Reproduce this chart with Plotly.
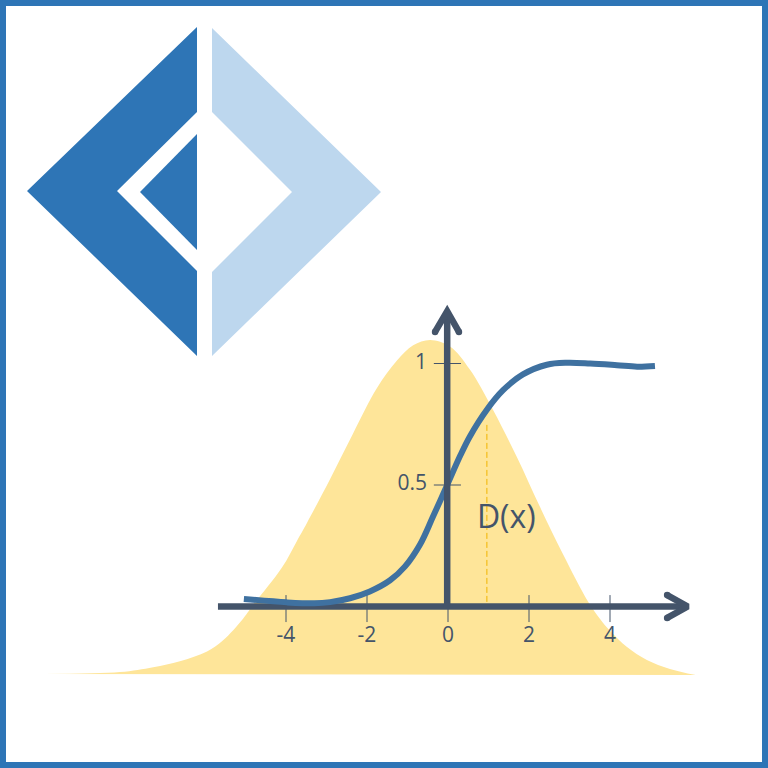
import plotly.graph_objects as go

# Function values
density_x = [-9.95,-8.10,-7.28,-6.62,-5.95,-5.56,-5.06,-4.84,-4.10,-3.73,-3.48,-2.91,-2.35,-1.75,-1.26,-0.86,-0.44,0.05,0.54,1.11,1.70,2.27,2.84,3.46,3.75,4.00,4.42,4.91,5.48,6.12]
density_y = [-0.278,-0.270,-0.250,-0.225,-0.185,-0.140,-0.050,0.0,0.160,0.270,0.345,0.525,0.710,0.900,1.012,1.075,1.097,1.070,0.975,0.810,0.615,0.410,0.215,0.020,-0.050,-0.100,-0.167,-0.220,-0.257,-0.282]
cdf_x = [-5.04,-3.98,-3.30,-2.91,-2.42,-1.93,-1.43,-1.06,-0.69,-0.37,-0.02,0.30,0.54,0.96,1.36,1.85,2.44,2.94,3.51,4.17,4.67,5.11]
cdf_y = [0.031,0.017,0.013,0.018,0.034,0.062,0.108,0.165,0.255,0.370,0.500,0.620,0.700,0.810,0.890,0.955,0.995,1.003,1.000,0.993,0.987,0.990]
x_ticks = [-4, -2, 0, 2, 4]
y_ticks = [0.5, 1]
y_tick_labels = ["0.5", "1"]
marker_x = 0.96
marker_y = [0.019, 0.755]
marker_label = "D(x)"

# Logo outline, in picture units
logo_left_x = [197, 27, 197, 197, 117, 197]
logo_left_y = [27, 191, 356, 271, 191, 112]
logo_inner_x = [197, 140, 197]
logo_inner_y = [134, 192, 250]
logo_right_x = [212, 381, 212, 212, 292, 212]
logo_right_y = [28, 192, 356, 272, 192, 112]

DARK = "#44546A"
BLUE = "#2E75B6"
LIGHT = "#BDD7EE"
CURVE = "#3F71A0"
GOLD = "#FEE599"

fig = go.Figure()

def logo(xs, ys, colour):
    fig.add_trace(go.Scatter(x=xs, y=ys, xaxis="x2", yaxis="y2", mode="lines", fill="toself",
                             fillcolor=colour, line=dict(width=0), hoverinfo="skip"))

logo(logo_left_x, logo_left_y, BLUE)
logo(logo_inner_x, logo_inner_y, BLUE)
logo(logo_right_x, logo_right_y, LIGHT)

fig.add_trace(go.Scatter(x=density_x, y=density_y, mode="lines", fill="toself", fillcolor=GOLD,
                         line=dict(width=0, shape="spline", smoothing=1.0), hoverinfo="skip"))
fig.add_trace(go.Scatter(x=[marker_x, marker_x], y=marker_y, mode="lines",
                         line=dict(color="#F0B400", width=1, dash="6px,3px"), hoverinfo="skip"))

tx, ty = [], []
for t in x_ticks:
    tx += [t, t, None]
    ty += [0 if t == 0 else 0.047, -0.064, None]
for t in y_ticks:
    tx += [-0.35, 0.32, None]
    ty += [t, t, None]
fig.add_trace(go.Scatter(x=tx, y=ty, mode="lines", line=dict(color=DARK, width=1), hoverinfo="skip"))

# horizontal axis with arrow head
fig.add_trace(go.Scatter(x=[-5.68, 5.9, None, 5.41, 5.92, 5.41], y=[0, 0, None, 0.047, 0, -0.047], mode="lines",
                         line=dict(color=DARK, width=6.5), hoverinfo="skip"))
fig.add_trace(go.Scatter(x=cdf_x, y=cdf_y, mode="lines",
                         line=dict(color=CURVE, width=6, shape="spline", smoothing=1.0), hoverinfo="skip"))
# vertical axis with arrow head
fig.add_trace(go.Scatter(x=[-0.02, -0.02, None, -0.32, -0.02, 0.27], y=[0, 1.2, None, 1.13, 1.215, 1.13], mode="lines",
                         line=dict(color=DARK, width=6.5), hoverinfo="skip"))
fig.add_trace(go.Scatter(x=[5.41, 5.41, -0.32, 0.27], y=[0.047, -0.047, 1.13, 1.13], mode="markers",
                         marker=dict(color=DARK, size=6.5), hoverinfo="skip"))

fig.add_trace(go.Scatter(x=x_ticks, y=[-0.125] * len(x_ticks), mode="text", text=[str(t) for t in x_ticks],
                         textposition="middle center", textfont=dict(family="Open Sans", size=21, color=DARK),
                         hoverinfo="skip"))
fig.add_trace(go.Scatter(x=[-0.52] * len(y_ticks), y=y_ticks, mode="text", text=y_tick_labels,
                         textposition="middle left", textfont=dict(family="Open Sans", size=21, color=DARK),
                         hoverinfo="skip"))
fig.add_trace(go.Scatter(x=[1.44], y=[0.355], mode="text", text=[marker_label], textposition="middle center",
                         textfont=dict(family="Open Sans", size=32, color=DARK), hoverinfo="skip"))

fig.update_layout(
    width=768, height=768, margin=dict(l=0, r=0, t=0, b=0), showlegend=False,
    paper_bgcolor="white", plot_bgcolor="white",
    xaxis=dict(range=[-448 / 40.5, 320 / 40.5], visible=False, domain=[0, 1], fixedrange=True),
    yaxis=dict(range=[(606.5 - 768) / 243, 606.5 / 243], visible=False, domain=[0, 1], fixedrange=True),
    xaxis2=dict(range=[0, 768], visible=False, overlaying="x", anchor="y2", fixedrange=True),
    yaxis2=dict(range=[768, 0], visible=False, overlaying="y", anchor="x2", fixedrange=True),
    shapes=[dict(type="rect", xref="x2", yref="y2", x0=3, y0=3, x1=765, y1=765,
                 line=dict(color=BLUE, width=6), fillcolor="rgba(0,0,0,0)", layer="above")],
)

fig.write_html("out.html", config={"displayModeBar": False},
               post_script="document.body.style.margin='0';document.body.style.overflow='hidden';")
